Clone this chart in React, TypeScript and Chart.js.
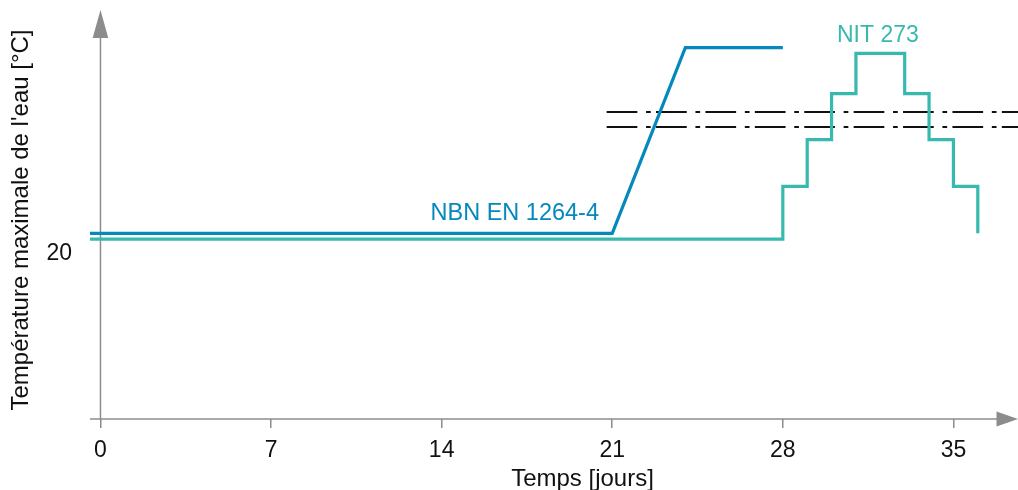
import React, { useEffect, useRef } from "react";
import { Chart, registerables } from "chart.js";

Chart.register(...registerables);

const xTicks = [0, 7, 14, 21, 28, 35];
const yTicks = [20];
const nbnDays = [-0.43, 21, 24, 28];
const nbnTemps = [22.2, 22.2, 44.4, 44.4];
const nitDays = [-0.43, 28, 29, 30, 31, 33, 34, 35, 36];
const nitTemps = [21.5, 27.8, 33.4, 38.9, 43.7, 38.9, 33.4, 27.8, 22.2];
const limitDays = [20.77, 37.65];
const limitUpper = [36.7, 36.7];
const limitLower = [34.9, 34.9];

const nbnLabel = "NBN EN 1264-4";
const nitLabel = "NIT 273";
const xTitle = "Temps [jours]";
const yTitle = "Température maximale de l'eau [°C]";

const BLUE = "#0588bc";
const TEAL = "#38b9af";
const GREY = "#8c8c8c";
const FONT = "'Liberation Sans', Arial, sans-serif";

export default function App() {
  const ref = useRef<HTMLCanvasElement | null>(null);

  useEffect(() => {
    document.body.style.margin = "0";
    const canvas = ref.current;
    if (!canvas) return;

    const decor = {
      id: "decor",
      beforeDatasetsDraw(chart: any) {
        const { ctx, chartArea, scales } = chart;
        const xs = scales.x;
        const ys = scales.y;
        const y0 = ys.getPixelForValue(0);
        const x0 = xs.getPixelForValue(0);
        ctx.save();
        ctx.strokeStyle = GREY;
        ctx.fillStyle = GREY;
        ctx.lineWidth = 1.5;
        // x axis
        ctx.beginPath();
        ctx.moveTo(chartArea.left, y0);
        ctx.lineTo(chartArea.right - 20, y0);
        ctx.stroke();
        ctx.beginPath();
        ctx.moveTo(chartArea.right, y0);
        ctx.lineTo(chartArea.right - 21.5, y0 - 7.5);
        ctx.lineTo(chartArea.right - 21.5, y0 + 7.5);
        ctx.closePath();
        ctx.fill();
        // y axis
        const tipY = chartArea.top - 11;
        ctx.beginPath();
        ctx.moveTo(x0, y0);
        ctx.lineTo(x0, tipY + 26);
        ctx.stroke();
        ctx.beginPath();
        ctx.moveTo(x0, tipY);
        ctx.lineTo(x0 - 7.8, tipY + 28);
        ctx.lineTo(x0 + 7.8, tipY + 28);
        ctx.closePath();
        ctx.fill();
        ctx.restore();
      },
      afterDatasetsDraw(chart: any) {
        const { ctx, scales } = chart;
        const xs = scales.x;
        const ys = scales.y;
        ctx.save();
        ctx.textAlign = "center";
        ctx.textBaseline = "alphabetic";
        ctx.font = `23.5px ${FONT}`;
        ctx.fillStyle = BLUE;
        ctx.fillText(nbnLabel, xs.getPixelForValue(17.0), ys.getPixelForValue(23.8));
        ctx.font = `23px ${FONT}`;
        ctx.fillStyle = TEAL;
        ctx.fillText(nitLabel, xs.getPixelForValue(31.9), ys.getPixelForValue(45.1));
        ctx.fillStyle = "#111";
        ctx.font = `24px ${FONT}`;
        ctx.textBaseline = "middle";
        ctx.fillText(xTitle, xs.getPixelForValue(19.78), 479.5);
        ctx.restore();
      },
    };

    const toPts = (xs: number[], ys: number[]) => xs.map((x, i) => ({ x, y: ys[i] }));

    const chart = new Chart(canvas, {
      type: "line",
      data: {
        datasets: [
          {
            data: toPts(nbnDays, nbnTemps),
            borderColor: BLUE,
            borderWidth: 3.2,
            pointRadius: 0,
            fill: false,
            tension: 0,
          },
          {
            data: toPts(nitDays, nitTemps),
            borderColor: TEAL,
            borderWidth: 3.2,
            pointRadius: 0,
            fill: false,
            stepped: "before",
          },
          {
            data: toPts(limitDays, limitUpper),
            borderColor: "#111",
            borderWidth: 2,
            borderDash: [30.7, 8.7, 4.7, 5.3],
            pointRadius: 0,
            fill: false,
          },
          {
            data: toPts(limitDays, limitLower),
            borderColor: "#111",
            borderWidth: 2,
            borderDash: [30.7, 8.7, 4.7, 5.3],
            pointRadius: 0,
            fill: false,
          },
        ],
      },
      options: {
        animation: false,
        responsive: false,
        devicePixelRatio: 1,
        layout: { padding: { left: 5, top: 21, right: 0, bottom: 0 } },
        plugins: { legend: { display: false }, tooltip: { enabled: false } },
        scales: {
          x: {
            type: "linear",
            min: -0.43,
            max: 37.65,
            afterBuildTicks: (s: any) => {
              s.ticks = xTicks.map((v) => ({ value: v }));
            },
            afterFit: (s: any) => {
              s.height = 71;
              s.paddingLeft = 0;
              s.paddingRight = 0;
            },
            border: { display: false },
            grid: {
              drawOnChartArea: false,
              drawTicks: true,
              tickLength: 9,
              color: GREY,
              lineWidth: 1.5,
            },
            ticks: {
              autoSkip: false,
              maxRotation: 0,
              padding: 9,
              color: "#111",
              font: { family: FONT, size: 23 },
              callback: (v: any) => String(v),
            },
          },
          y: {
            type: "linear",
            min: 0,
            max: 47.58,
            afterBuildTicks: (s: any) => {
              s.ticks = yTicks.map((v) => ({ value: v }));
            },
            afterFit: (s: any) => {
              s.width = 85;
              s.paddingTop = 0;
              s.paddingBottom = 0;
            },
            border: { display: false },
            grid: { display: false, drawTicks: false },
            ticks: {
              padding: 18,
              labelOffset: 2,
              color: "#111",
              font: { family: FONT, size: 23 },
              callback: (v: any) => String(v),
            },
            title: {
              display: true,
              text: yTitle,
              color: "#111",
              font: { family: FONT, size: 24, lineHeight: 1 },
              padding: { top: 4.5, bottom: 0 },
            },
          },
        },
      },
      plugins: [decor],
    } as any);

    return () => chart.destroy();
  }, []);

  return <canvas ref={ref} width={1018} height={490} style={{ display: "block" }} />;
}
